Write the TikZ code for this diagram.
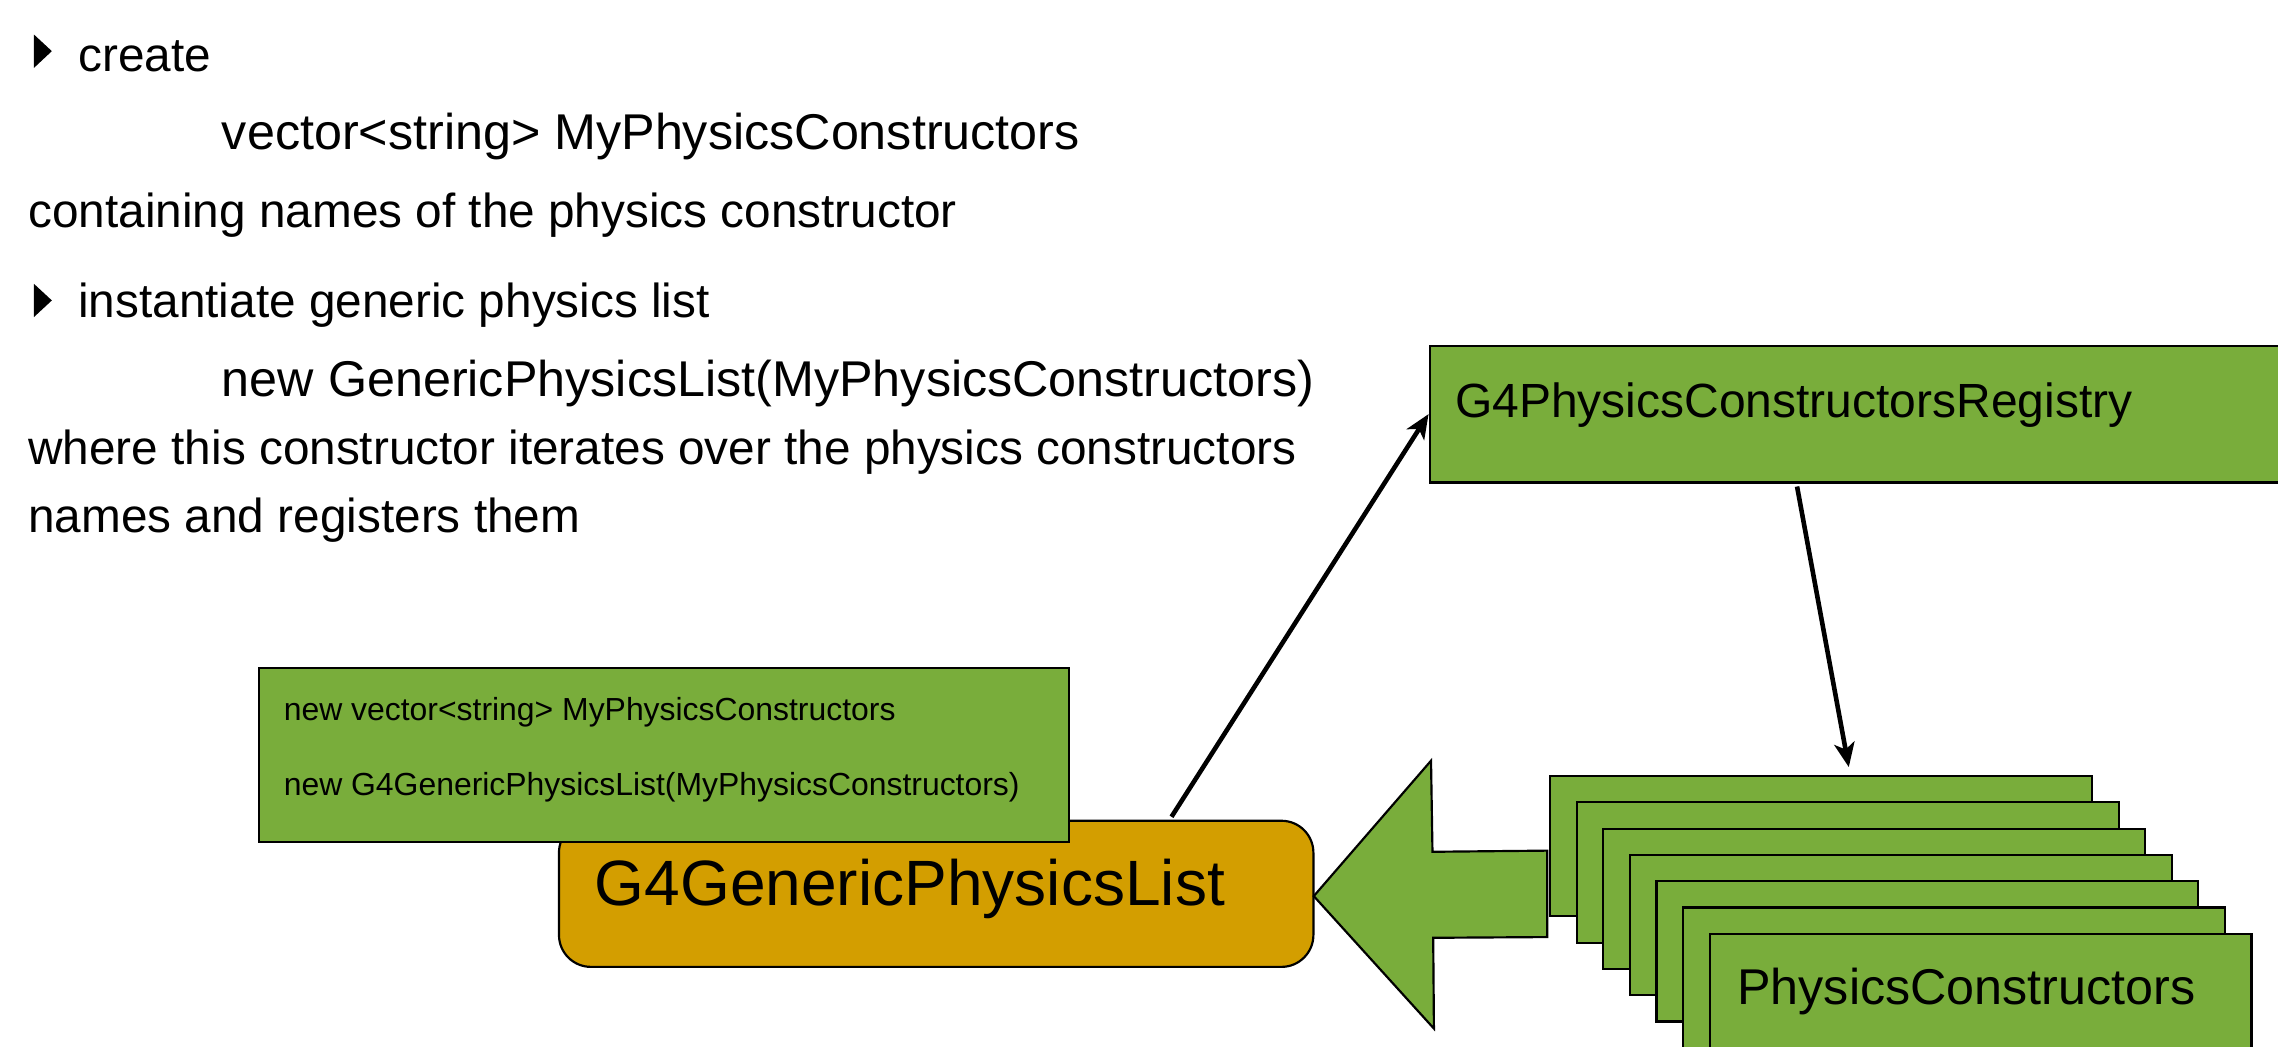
\documentclass[tikz,border=0pt]{standalone}
\usepackage{fontspec}
\setmainfont{Liberation Sans}
\usetikzlibrary{arrows.meta}
\definecolor{boxgreen}{RGB}{121,173,59}
\definecolor{boxorange}{RGB}{211,158,0}
\begin{document}
\begin{tikzpicture}[x=0.02cm,y=-0.02cm,
  txt/.style={anchor=base west, inner sep=0pt, font=\fontsize{19.7}{23.6}\selectfont},
  plaintxt/.style={anchor=base west, inner sep=0pt, font=\fontsize{18.7}{22.4}\selectfont},
  codetxt/.style={anchor=base west, inner sep=0pt, font=\fontsize{12.5}{15}\selectfont},
  greenbox/.style={draw=black, fill=boxgreen, line width=0.85pt, anchor=north west, inner sep=0pt},
  stackbox/.style={greenbox, minimum width=7.46cm, minimum height=1.932cm},
  conn/.style={line width=1.8pt, -{Stealth[length=9.5pt,width=8pt,inset=2.5pt]}},
  bullet/.style={fill=black}]
\clip (0,0) rectangle (1568,720);
\fill[white] (0,0) rectangle (1568,720);

% bullets and text
\fill[bullet] (23.4,23.8) -- (35.7,35.2) -- (23.4,46.7) -- cycle;
\fill[bullet] (23.4,195.4) -- (35.7,206.8) -- (23.4,218.2) -- cycle;
\node[plaintxt] (t1) at (53.6,49.2) {create};
\node[txt] (t2) at (152.4,103.2) {vector<string> MyPhysicsConstructors};
\node[plaintxt] (t3) at (19.2,156.8) {containing names of the physics constructor};
\node[plaintxt] (t4) at (53.6,218.8) {instantiate generic physics list};
\node[txt] (t5) at (152.4,272.9) {new GenericPhysicsList(MyPhysicsConstructors)};
\node[plaintxt] (t6) at (19.2,319.6) {where this constructor iterates over the physics constructors};
\node[plaintxt] (t7) at (19.2,366.2) {names and registers them};

% registry box
\node[greenbox, minimum width=12.4cm, minimum height=1.884cm] (reg) at (983.3,237.2) {};
\node[anchor=base west, inner sep=0pt, font=\fontsize{18.8}{22}\selectfont] (regt) at (1001.2,287.1) {G4PhysicsConstructorsRegistry};

% generic physics list
\node[draw=black, fill=boxorange, line width=0.85pt, rounded corners=0.44cm, anchor=north west, inner sep=0pt,
      minimum width=10.388cm, minimum height=2.012cm] (gl) at (384,564.2) {};
\node[anchor=base west, inner sep=0pt, font=\fontsize{25.1}{30}\selectfont] (glt) at (409,623.6) {G4GenericPhysicsList};

% code box
\node[greenbox, minimum width=11.15cm, minimum height=2.398cm] (code) at (177.5,459.1) {};
\node[codetxt] (c1) at (195,496) {new vector<string> MyPhysicsConstructors};
\node[codetxt] (c2) at (195,547.7) {new G4GenericPhysicsList(MyPhysicsConstructors)};

% block arrow
\draw[fill=boxgreen, line width=0.85pt, line join=miter]
  (904.3,616.8) -- (985,523.6) -- (986,586.3) -- (1065,585.5) -- (1065,645) -- (986.5,645.5) -- (987,708) -- cycle;

% stacked physics constructors
\foreach \i in {0,...,6} {
  \node[stackbox] (pc\i) at (1066.3+18.3*\i,533.4+18.1*\i) {};
}
\node[txt] (pct) at (1195.4,691.7) {PhysicsConstructors};

% connectors
\draw[conn] ([xshift=3.24cm,yshift=0.04cm]gl.north) -- (reg.west);
\draw[conn] ([xshift=5.074cm,yshift=-0.04cm]reg.south west) -- ([xshift=4.126cm,yshift=0.108cm]pc0.north west);
\end{tikzpicture}
\end{document}
